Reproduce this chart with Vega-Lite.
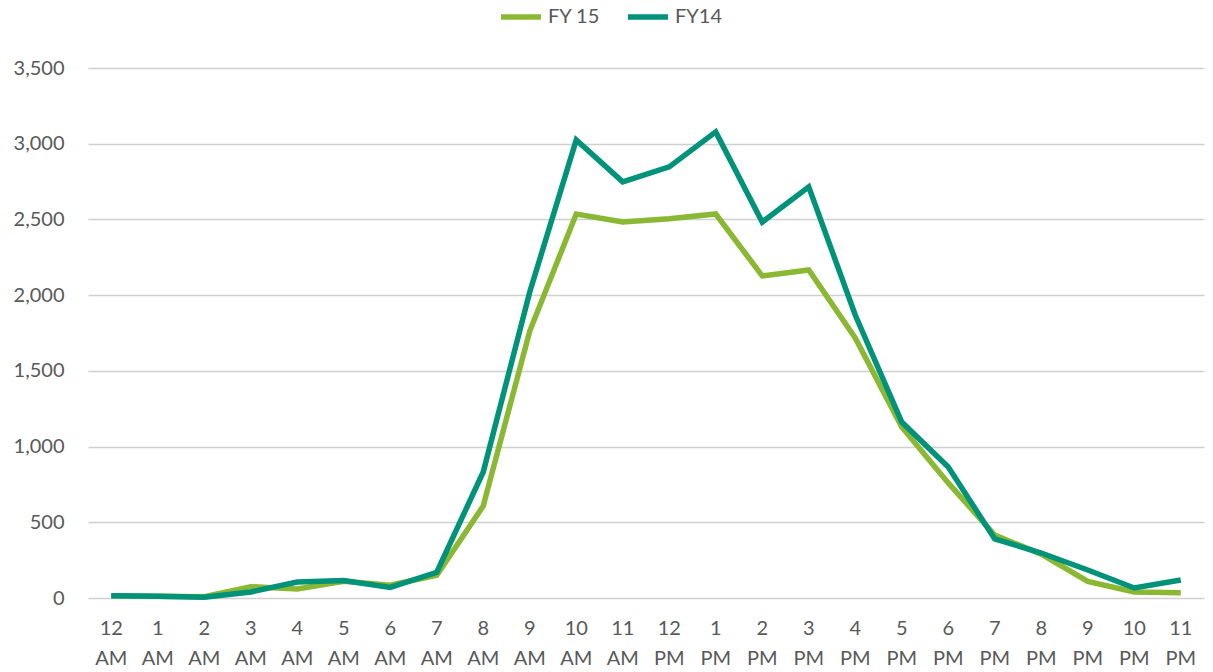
{
  "$schema": "https://vega.github.io/schema/vega-lite/v6.json",
  "width": 1116,
  "height": 530,
  "autosize": {"type": "none"},
  "padding": {"left": 88, "top": 68, "right": 9, "bottom": 74},
  "background": "white",
  "config": {
    "view": {"stroke": null},
    "font": "Lato",
    "axis": {"labelColor": "#595959", "labelFontSize": 20, "labelFont": "Lato"},
    "legend": {"labelColor": "#595959", "labelFontSize": 20, "labelFont": "Lato"}
  },
  "data": {
    "values": [
      {"hour": "12 AM", "series": "FY 15", "value": 15},
      {"hour": "1 AM", "series": "FY 15", "value": 12},
      {"hour": "2 AM", "series": "FY 15", "value": 8},
      {"hour": "3 AM", "series": "FY 15", "value": 75},
      {"hour": "4 AM", "series": "FY 15", "value": 60},
      {"hour": "5 AM", "series": "FY 15", "value": 110},
      {"hour": "6 AM", "series": "FY 15", "value": 85},
      {"hour": "7 AM", "series": "FY 15", "value": 150},
      {"hour": "8 AM", "series": "FY 15", "value": 608},
      {"hour": "9 AM", "series": "FY 15", "value": 1763},
      {"hour": "10 AM", "series": "FY 15", "value": 2536},
      {"hour": "11 AM", "series": "FY 15", "value": 2483},
      {"hour": "12 PM", "series": "FY 15", "value": 2505},
      {"hour": "1 PM", "series": "FY 15", "value": 2536},
      {"hour": "2 PM", "series": "FY 15", "value": 2127},
      {"hour": "3 PM", "series": "FY 15", "value": 2166},
      {"hour": "4 PM", "series": "FY 15", "value": 1717},
      {"hour": "5 PM", "series": "FY 15", "value": 1130},
      {"hour": "6 PM", "series": "FY 15", "value": 760},
      {"hour": "7 PM", "series": "FY 15", "value": 415},
      {"hour": "8 PM", "series": "FY 15", "value": 290},
      {"hour": "9 PM", "series": "FY 15", "value": 110},
      {"hour": "10 PM", "series": "FY 15", "value": 40},
      {"hour": "11 PM", "series": "FY 15", "value": 35},
      {"hour": "12 AM", "series": "FY14", "value": 15},
      {"hour": "1 AM", "series": "FY14", "value": 12},
      {"hour": "2 AM", "series": "FY14", "value": 5},
      {"hour": "3 AM", "series": "FY14", "value": 40},
      {"hour": "4 AM", "series": "FY14", "value": 105},
      {"hour": "5 AM", "series": "FY14", "value": 115},
      {"hour": "6 AM", "series": "FY14", "value": 70},
      {"hour": "7 AM", "series": "FY14", "value": 170},
      {"hour": "8 AM", "series": "FY14", "value": 832},
      {"hour": "9 AM", "series": "FY14", "value": 2021},
      {"hour": "10 AM", "series": "FY14", "value": 3025},
      {"hour": "11 AM", "series": "FY14", "value": 2748},
      {"hour": "12 PM", "series": "FY14", "value": 2847},
      {"hour": "1 PM", "series": "FY14", "value": 3078},
      {"hour": "2 PM", "series": "FY14", "value": 2483},
      {"hour": "3 PM", "series": "FY14", "value": 2715},
      {"hour": "4 PM", "series": "FY14", "value": 1869},
      {"hour": "5 PM", "series": "FY14", "value": 1162},
      {"hour": "6 PM", "series": "FY14", "value": 865},
      {"hour": "7 PM", "series": "FY14", "value": 390},
      {"hour": "8 PM", "series": "FY14", "value": 297},
      {"hour": "9 PM", "series": "FY14", "value": 185},
      {"hour": "10 PM", "series": "FY14", "value": 66},
      {"hour": "11 PM", "series": "FY14", "value": 119}
    ]
  },
  "mark": {"type": "line", "strokeWidth": 5.5, "strokeJoin": "miter", "strokeCap": "butt"},
  "encoding": {
    "x": {
      "field": "hour",
      "type": "ordinal",
      "sort": null,
      "scale": {"type": "band", "paddingInner": 0, "paddingOuter": 0},
      "axis": {
        "title": null,
        "domain": false,
        "ticks": false,
        "grid": false,
        "labelAngle": 0,
        "labelPadding": 20,
        "labelLineHeight": 30,
        "labelExpr": "split(datum.label, ' ')"
      }
    },
    "y": {
      "field": "value",
      "type": "quantitative",
      "scale": {"domain": [0, 3500], "nice": false},
      "axis": {
        "title": null,
        "values": [0, 500, 1000, 1500, 2000, 2500, 3000, 3500],
        "format": ",.0f",
        "domain": false,
        "ticks": false,
        "labelPadding": 24,
        "gridColor": "#d0d0d0",
        "gridWidth": 1.3
      }
    },
    "color": {
      "field": "series",
      "type": "nominal",
      "sort": null,
      "scale": {"domain": ["FY 15", "FY14"], "range": ["#8ab833", "#00937a"]},
      "legend": {
        "title": null,
        "orient": "none",
        "direction": "horizontal",
        "legendX": 410,
        "legendY": -74,
        "symbolType": "stroke",
        "symbolStrokeWidth": 5.5,
        "symbolSize": 1600,
        "columnPadding": 16,
        "labelOffset": 4
      }
    }
  }
}
